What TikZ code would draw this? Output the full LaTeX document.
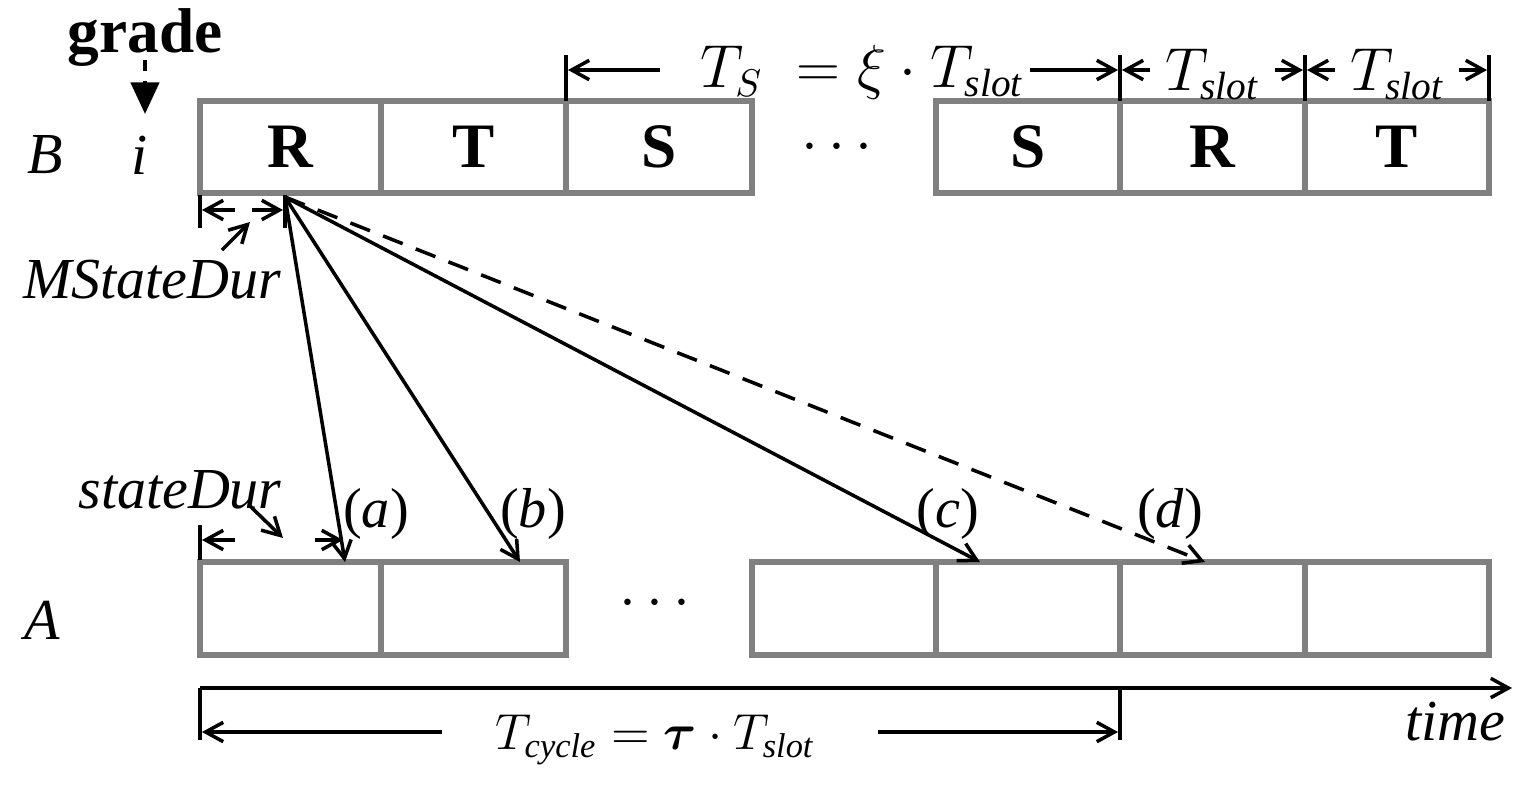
\documentclass[tikz,border=0pt]{standalone}
\usepackage{amsmath,amssymb,bm}
\usepackage{fontspec}
\setmainfont{Liberation Serif}
\usetikzlibrary{arrows.meta}
\begin{document}
\begin{tikzpicture}[x=0.01cm,y=-0.01cm,
  arr/.style={-{Straight Barb[length=5pt,width=5.5pt]},line width=1pt},
  tk/.style={line width=1pt},
  dsh/.style={dash pattern=on 6pt off 4pt},
  big/.style={font=\fontsize{18}{20}\selectfont\bfseries},
  lab/.style={font=\fontsize{16.5}{19}\selectfont\itshape},
  sm/.style={font=\fontsize{16}{19}\selectfont}]
\useasboundingbox (0,0) rectangle (1535,802);
\tikzset{cell/.style={draw=gray,line width=1.5pt}}
% top row
\foreach \a/\b/\t [count=\k] in {200/381/R,381/566/T,566/752/S,936/1120/S,1120/1305/R,1305/1489/T}
  \draw[cell] (\a,101) rectangle (\b,193) node[midway,big] (t\k) {\t};
\foreach \a/\b [count=\k] in {200/381,381/566,752/936,936/1120,1120/1305,1305/1489}
  \draw[cell] (\a,562) rectangle (\b,655) node[midway] (b\k) {};
\node[big] (dt) at (842,148) {$\cdots$};
\node[big] (db) at (660,604) {$\cdots$};
\node[lab] (B) at (45,155) {B};
\node[lab] (i) at (140,155) {i};
\node[lab] (A) at (42,620) {A};
\node[big] (g) at (145,38) {grade};
\coordinate (g1) at (145,60);
\coordinate (g2) at (145,114);
\draw[dashed,line width=1.2pt,-{Triangle[length=9pt,width=8pt]}] (g1) -- (g2);
% R arrows
\coordinate (o) at (285,197);
\coordinate (pa) at (345,562); \coordinate (pb) at (520,562);
\coordinate (pc) at (980,562); \coordinate (pd) at (1205,562);
\draw[arr] (o) -- (pa);
\draw[arr] (o) -- (pb);
\draw[arr] (o) -- (pc);
\draw[arr,dsh] (o) -- (pd);
\node[sm] (la) at (376,514) {(\textit{a})};
\node[sm] (lb) at (533,514) {(\textit{b})};
\node[sm] (lc) at (948,514) {(\textit{c})};
\node[sm] (ld) at (1170,514) {(\textit{d})};
% MStateDur
\coordinate (m1) at (200,195); \coordinate (m1b) at (200,228);
\coordinate (m2) at (285,195); \coordinate (m2b) at (285,228);
\draw[tk] (m1) -- (m1b); \draw[tk] (m2) -- (m2b);
\coordinate (ma) at (235,210); \coordinate (maa) at (202,210);
\coordinate (mb) at (252,210); \coordinate (mbb) at (283,210);
\draw[arr] (ma) -- (maa); \draw[arr] (mb) -- (mbb);
\coordinate (mc) at (222,250); \coordinate (mcc) at (250,222);
\draw[arr] (mc) -- (mcc);
\node[lab] (ms) at (152,280) {MStateDur};
% stateDur
\coordinate (s1) at (200,525); \coordinate (s1b) at (200,560);
\draw[tk] (s1) -- (s1b);
\coordinate (sa) at (235,540); \coordinate (saa) at (202,540);
\coordinate (sb) at (315,540); \coordinate (sbb) at (343,540);
\draw[arr] (sa) -- (saa); \draw[arr] (sb) -- (sbb);
\coordinate (sc) at (250,506); \coordinate (scc) at (283,538);
\draw[arr] (sc) -- (scc);
\node[lab] (sd) at (180,490) {stateDur};
% time axis
\coordinate (t0) at (200,688); \coordinate (t1) at (1512,688);
\draw[arr] (t0) -- (t1);
\coordinate (tt0) at (200,740); \coordinate (tt1) at (1120,688); \coordinate (tt1b) at (1120,740);
\draw[tk] (t0) -- (tt0); \draw[tk] (tt1) -- (tt1b);
\coordinate (c1) at (442,732); \coordinate (c1b) at (202,732);
\coordinate (c2) at (878,732); \coordinate (c2b) at (1118,732);
\draw[arr] (c1) -- (c1b); \draw[arr] (c2) -- (c2b);
\node[sm,font=\fontsize{14}{17}\selectfont] (tc) at (655,740) {$T_{\mathit{cycle}}=\bm{\tau}\cdot T_{\mathit{slot}}$};
\node[lab] (time) at (1455,722) {time};
% top dimensions
\foreach \x [count=\k] in {566,1120,1305,1489} {
  \coordinate (u\k) at (\x,55); \coordinate (v\k) at (\x,101);
  \draw[tk] (u\k) -- (v\k);}
\coordinate (ts1) at (660,70); \coordinate (ts1b) at (568,70);
\coordinate (ts2) at (1030,70); \coordinate (ts2b) at (1118,70);
\draw[arr] (ts1) -- (ts1b); \draw[arr] (ts2) -- (ts2b);
\node[sm] (ts) at (862,72) {$T_S\;=\xi\cdot T_{\mathit{slot}}$};
\coordinate (q1) at (1150,70); \coordinate (q1b) at (1122,70);
\coordinate (q2) at (1275,70); \coordinate (q2b) at (1303,70);
\draw[arr] (q1) -- (q1b); \draw[arr] (q2) -- (q2b);
\node[sm] (s1l) at (1212,74) {$T_{\mathit{slot}}$};
\coordinate (r1) at (1335,70); \coordinate (r1b) at (1307,70);
\coordinate (r2) at (1459,70); \coordinate (r2b) at (1487,70);
\draw[arr] (r1) -- (r1b); \draw[arr] (r2) -- (r2b);
\node[sm] (s2l) at (1397,74) {$T_{\mathit{slot}}$};
\end{tikzpicture}
\end{document}
